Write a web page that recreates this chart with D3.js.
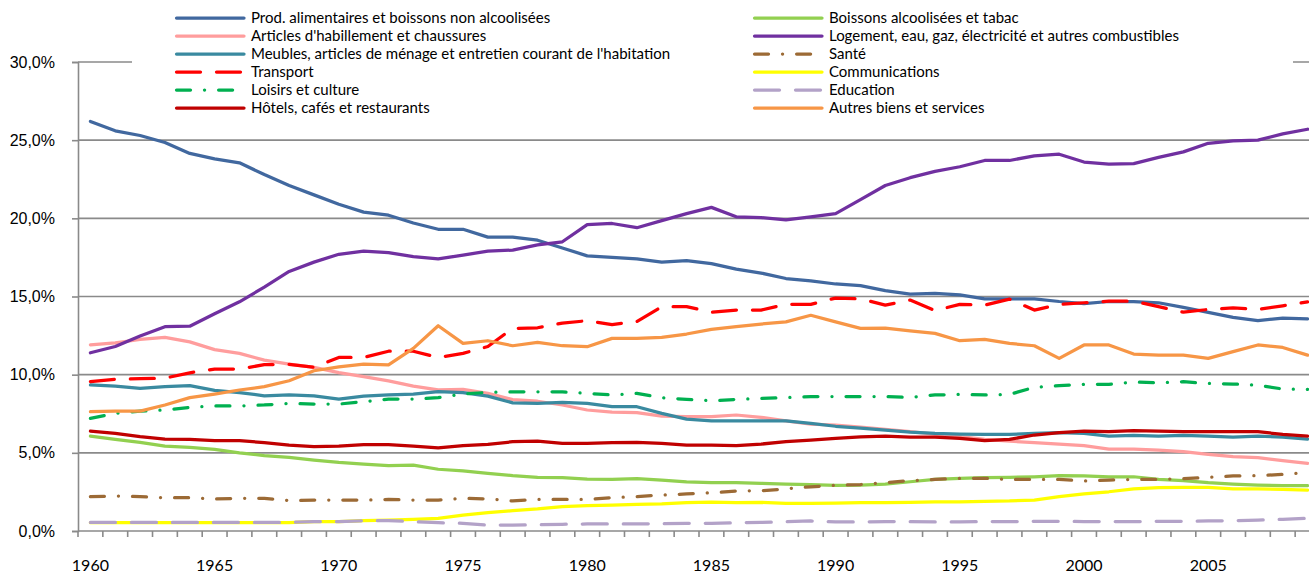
<!DOCTYPE html>
<html>
<head>
<meta charset="utf-8">
<script src="https://cdn.jsdelivr.net/npm/d3@7"></script>
<style>
  html, body { margin: 0; padding: 0; background: #fff; }
  svg { display: block; font-family: Lato, "Open Sans", sans-serif; }
</style>
</head>
<body>
<svg id="chart" width="1309" height="575"></svg>
<script>
// years on the category axis
const years = d3.range(1960, 2010);
const yTicks = [0, 5, 10, 15, 20, 25, 30];

// budget shares (%), 1960 -> 2009
const food = [26.2, 25.6, 25.3, 24.85, 24.15, 23.8, 23.55, 22.8, 22.1, 21.5,
  20.9, 20.4, 20.2, 19.7, 19.3, 19.3, 18.8, 18.8, 18.6, 18.1,
  17.6, 17.5, 17.4, 17.2, 17.3, 17.1, 16.75, 16.5, 16.15, 16.0,
  15.8, 15.7, 15.38, 15.15, 15.2, 15.1, 14.85, 14.85, 14.85, 14.68,
  14.55, 14.68, 14.68, 14.6, 14.3, 13.98, 13.66, 13.45, 13.62, 13.57];
const alcohol = [6.07, 5.86, 5.67, 5.43, 5.35, 5.22, 5.0, 4.82, 4.71, 4.54,
  4.39, 4.28, 4.18, 4.22, 3.95, 3.84, 3.69, 3.54, 3.43, 3.41,
  3.32, 3.3, 3.35, 3.26, 3.15, 3.09, 3.09, 3.05, 3.0, 2.96,
  2.92, 2.94, 3.0, 3.15, 3.3, 3.37, 3.41, 3.43, 3.47, 3.54,
  3.52, 3.47, 3.47, 3.3, 3.22, 3.09, 3.0, 2.94, 2.9, 2.9];
const clothing = [11.9, 12.04, 12.25, 12.38, 12.1, 11.6, 11.36, 10.93, 10.68, 10.47,
  10.13, 9.87, 9.6, 9.27, 9.03, 9.06, 8.8, 8.4, 8.3, 8.06,
  7.74, 7.6, 7.57, 7.35, 7.31, 7.31, 7.42, 7.27, 7.05, 6.84,
  6.78, 6.65, 6.5, 6.35, 6.2, 6.03, 5.86, 5.75, 5.65, 5.56,
  5.46, 5.24, 5.24, 5.18, 5.07, 4.9, 4.75, 4.69, 4.5, 4.33];
const housing = [11.4, 11.8, 12.47, 13.07, 13.1, 13.9, 14.66, 15.6, 16.6, 17.2,
  17.7, 17.9, 17.8, 17.55, 17.4, 17.65, 17.9, 17.97, 18.3, 18.5,
  19.6, 19.67, 19.4, 19.85, 20.3, 20.7, 20.1, 20.05, 19.9, 20.1,
  20.3, 21.2, 22.1, 22.6, 23.0, 23.3, 23.7, 23.7, 24.0, 24.1,
  23.6, 23.47, 23.5, 23.9, 24.25, 24.8, 24.95, 25.0, 25.4, 25.7];
const furnishing = [9.34, 9.27, 9.12, 9.23, 9.3, 9.0, 8.85, 8.65, 8.7, 8.65,
  8.44, 8.63, 8.7, 8.76, 8.92, 8.85, 8.63, 8.2, 8.16, 8.23,
  8.16, 7.95, 7.95, 7.52, 7.16, 7.05, 7.05, 7.05, 7.05, 6.88,
  6.7, 6.58, 6.46, 6.33, 6.24, 6.2, 6.18, 6.18, 6.24, 6.29,
  6.24, 6.07, 6.12, 6.07, 6.12, 6.07, 6.0, 6.07, 6.0, 5.88];
const health = [2.2, 2.24, 2.2, 2.13, 2.13, 2.05, 2.09, 2.09, 1.94, 1.98,
  1.98, 1.98, 2.02, 1.98, 1.98, 2.09, 2.05, 1.92, 2.02, 2.02,
  2.02, 2.13, 2.2, 2.3, 2.37, 2.45, 2.56, 2.58, 2.69, 2.83,
  2.92, 2.97, 3.09, 3.22, 3.3, 3.37, 3.37, 3.3, 3.3, 3.3,
  3.2, 3.26, 3.3, 3.3, 3.35, 3.43, 3.52, 3.54, 3.62, 3.75];
const transport = [9.55, 9.7, 9.74, 9.78, 10.12, 10.36, 10.36, 10.64, 10.66, 10.47,
  11.1, 11.1, 11.5, 11.5, 11.1, 11.36, 11.8, 12.96, 13.0, 13.3,
  13.45, 13.2, 13.4, 14.35, 14.35, 14.0, 14.13, 14.13, 14.5, 14.5,
  14.9, 14.85, 14.45, 14.77, 14.1, 14.5, 14.45, 14.83, 14.13, 14.5,
  14.6, 14.7, 14.7, 14.35, 14.0, 14.17, 14.28, 14.17, 14.4, 14.66];
const communications = [0.53, 0.53, 0.53, 0.53, 0.53, 0.53, 0.53, 0.53, 0.53, 0.6,
  0.6, 0.66, 0.7, 0.75, 0.81, 1.02, 1.17, 1.3, 1.41, 1.56,
  1.62, 1.66, 1.7, 1.73, 1.81, 1.85, 1.81, 1.83, 1.77, 1.77,
  1.79, 1.81, 1.81, 1.83, 1.87, 1.87, 1.9, 1.92, 1.98, 2.2,
  2.37, 2.51, 2.69, 2.77, 2.79, 2.79, 2.69, 2.69, 2.66, 2.62];
const recreation = [7.2, 7.52, 7.67, 7.74, 7.9, 8.0, 8.0, 8.06, 8.16, 8.12,
  8.12, 8.27, 8.44, 8.44, 8.53, 8.76, 8.87, 8.9, 8.9, 8.9,
  8.8, 8.7, 8.8, 8.53, 8.42, 8.33, 8.42, 8.48, 8.53, 8.6,
  8.6, 8.6, 8.6, 8.55, 8.7, 8.74, 8.7, 8.74, 9.19, 9.3,
  9.38, 9.38, 9.53, 9.48, 9.55, 9.44, 9.4, 9.33, 9.08, 9.06];
const education = [0.55, 0.55, 0.55, 0.55, 0.55, 0.55, 0.55, 0.55, 0.55, 0.6,
  0.6, 0.66, 0.66, 0.6, 0.53, 0.49, 0.38, 0.38, 0.4, 0.43,
  0.45, 0.45, 0.45, 0.47, 0.49, 0.49, 0.53, 0.55, 0.6, 0.64,
  0.58, 0.58, 0.6, 0.6, 0.58, 0.58, 0.6, 0.6, 0.62, 0.62,
  0.6, 0.6, 0.6, 0.62, 0.62, 0.64, 0.66, 0.7, 0.75, 0.81];
const hotels = [6.39, 6.24, 6.03, 5.88, 5.86, 5.78, 5.78, 5.65, 5.5, 5.39,
  5.43, 5.52, 5.52, 5.43, 5.31, 5.46, 5.54, 5.71, 5.75, 5.6,
  5.6, 5.65, 5.67, 5.6, 5.5, 5.5, 5.46, 5.56, 5.71, 5.82,
  5.92, 6.02, 6.07, 6.0, 6.0, 5.92, 5.78, 5.86, 6.14, 6.29,
  6.39, 6.35, 6.42, 6.39, 6.35, 6.35, 6.35, 6.35, 6.18, 6.07];
const other = [7.63, 7.67, 7.67, 8.06, 8.53, 8.76, 9.02, 9.23, 9.61, 10.25,
  10.5, 10.68, 10.63, 11.68, 13.13, 12.0, 12.17, 11.85, 12.06, 11.85,
  11.79, 12.32, 12.32, 12.38, 12.6, 12.9, 13.07, 13.24, 13.38, 13.8,
  13.38, 12.96, 12.98, 12.8, 12.64, 12.17, 12.26, 12.0, 11.85, 11.04,
  11.9, 11.9, 11.32, 11.25, 11.25, 11.04, 11.47, 11.9, 11.74, 11.25];

const labels = [
  'Prod. alimentaires et boissons non alcoolisées',
  'Boissons alcoolisées et tabac',
  "Articles d'habillement et chaussures",
  'Logement, eau, gaz, électricité et autres combustibles',
  "Meubles, articles de ménage et entretien courant de l'habitation",
  'Santé',
  'Transport',
  'Communications',
  'Loisirs et culture',
  'Education',
  'Hôtels, cafés et restaurants',
  'Autres biens et services'
];
const values = [food, alcohol, clothing, housing, furnishing, health,
  transport, communications, recreation, education, hotels, other];
const colors = ['#41689f', '#92d050', '#ff9d9d', '#7030a0', '#3a8aa0', '#9c6a35',
  '#ff0000', '#ffff00', '#00b050', '#b3a2c8', '#c00000', '#f79646'];
// stroke-dasharray per series (null = solid)
const dashes = [null, null, null, null, null, '14,14,0.1,14',
  '24,16', null, '14,14,0.1,14', '25,16', null, null];

const svg = d3.select('#chart');

const left = 78, step = 24.84;
const x = d3.scaleBand()
  .domain(years)
  .range([left, left + years.length * step]);
const y = d3.scaleLinear().domain([0, 30]).range([531, 62]);

const axisColor = '#8a8a8a';

// horizontal gridlines
svg.append('g')
  .selectAll('line')
  .data(yTicks.slice(1))
  .enter().append('line')
  .attr('x1', left).attr('x2', 1309)
  .attr('y1', d => y(d)).attr('y2', d => y(d))
  .attr('stroke', axisColor)
  .attr('stroke-width', 1.6);

// value axis
const yAxis = d3.axisLeft(y)
  .tickValues(yTicks)
  .tickSize(6)
  .tickPadding(17)
  .tickFormat(d => d3.format('.1f')(d).replace('.', ',') + '%');
const gy = svg.append('g')
  .attr('transform', `translate(${left},0)`)
  .call(yAxis);
gy.select('.domain').attr('stroke', axisColor).attr('stroke-width', 1.6);
gy.selectAll('.tick line').attr('stroke', axisColor).attr('stroke-width', 1.6);
gy.selectAll('.tick text')
  .attr('fill', '#000')
  .style('font-size', '16px');

// category axis: ticks on band edges, labels every 5 years
const gx = svg.append('g');
gx.append('line')
  .attr('x1', left).attr('x2', 1309)
  .attr('y1', y(0)).attr('y2', y(0))
  .attr('stroke', axisColor).attr('stroke-width', 1.6);
gx.selectAll('.tk')
  .data(years)
  .enter().append('line')
  .attr('class', 'tk')
  .attr('x1', d => x(d)).attr('x2', d => x(d))
  .attr('y1', y(0)).attr('y2', y(0) + 6)
  .attr('stroke', axisColor).attr('stroke-width', 1.6);
gx.selectAll('.lbl')
  .data(years.filter(d => d % 5 === 0))
  .enter().append('text')
  .attr('class', 'lbl')
  .attr('x', d => x(d) + x.bandwidth() / 2)
  .attr('y', 571)
  .attr('text-anchor', 'middle')
  .style('font-size', '16px')
  .attr('fill', '#000')
  .text(d => d);

// series lines
const line = d3.line()
  .x((d, i) => x(years[i]) + x.bandwidth() / 2)
  .y(d => y(d));

svg.append('g')
  .selectAll('path')
  .data(values)
  .enter().append('path')
  .attr('d', d => line(d))
  .attr('fill', 'none')
  .attr('stroke', (d, i) => colors[i])
  .attr('stroke-width', 3.25)
  .attr('stroke-linejoin', 'round')
  .attr('stroke-linecap', 'round')
  .attr('stroke-dasharray', (d, i) => dashes[i]);

// legend box sits over the top of the plot
const legend = svg.append('g');
legend.append('rect')
  .attr('x', 132).attr('y', 0)
  .attr('width', 1161).attr('height', 117)
  .attr('fill', '#fff');

const items = legend.selectAll('.item')
  .data(labels)
  .enter().append('g')
  .attr('class', 'item')
  .attr('transform', (d, i) => `translate(${i % 2 ? 753 : 175},${18 + Math.floor(i / 2) * 18})`);

items.append('line')
  .attr('x1', 1.5).attr('x2', 69)
  .attr('stroke', (d, i) => colors[i])
  .attr('stroke-width', 3.25)
  .attr('stroke-linecap', 'round')
  .attr('stroke-dasharray', (d, i) => dashes[i]);

items.append('text')
  .attr('x', 76)
  .attr('dy', '0.35em')
  .style('font-size', '15px')
  .attr('fill', '#000')
  .text(d => d);
</script>
</body>
</html>
